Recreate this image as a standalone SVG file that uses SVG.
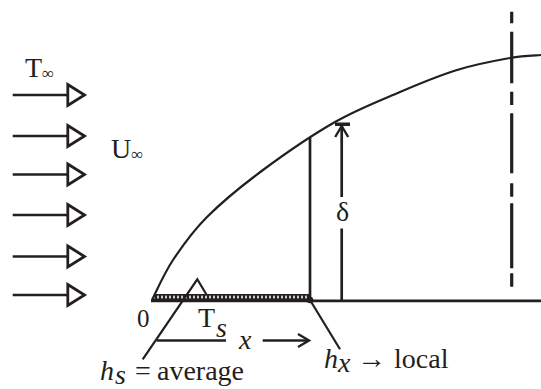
<svg xmlns="http://www.w3.org/2000/svg" width="541" height="389" viewBox="0 0 541 389">
<style>
.ln{fill:none;stroke:#231f20;stroke-width:2.7;stroke-linecap:butt}
.thin{fill:none;stroke:#231f20;stroke-width:2.2}
.t{font-family:"Liberation Serif","Times New Roman",serif;font-size:28px;fill:#231f20}
.i{font-style:italic}
.sub{font-size:17px}
</style>
<defs>
<marker id="openTri" markerUnits="userSpaceOnUse" markerWidth="26" markerHeight="28" viewBox="-21 -14 26 28" refX="0" refY="0" orient="auto">
<path d="M-16.7,-10.5 L0,0 L-16.7,10.5 Z" fill="#fff" stroke="#231f20" stroke-width="2.8"/>
</marker>
<marker id="chev" markerUnits="userSpaceOnUse" markerWidth="18" markerHeight="18" viewBox="-14 -9 18 18" refX="0" refY="0" orient="auto">
<path d="M-11,-6.5 L0,0 L-11,6.5" fill="none" stroke="#231f20" stroke-width="2.4"/>
</marker>
<pattern id="hatch" patternUnits="userSpaceOnUse" x="152" y="294.5" width="4" height="5">
<rect width="4" height="5" fill="#231f20"/>
<ellipse cx="2" cy="2.5" rx="0.9" ry="1.5" fill="#fff"/>
</pattern>
</defs>

<g id="free-stream">
<path class="ln" d="M12.7,95 H84.5" marker-end="url(#openTri)"/>
<path class="ln" d="M12.7,136 H84.5" marker-end="url(#openTri)"/>
<path class="ln" d="M12.7,174.5 H84.5" marker-end="url(#openTri)"/>
<path class="ln" d="M12.7,215 H84.5" marker-end="url(#openTri)"/>
<path class="ln" d="M12.7,256.5 H84.5" marker-end="url(#openTri)"/>
<path class="ln" d="M12.7,295 H84.5" marker-end="url(#openTri)"/>
<text class="t" x="25" y="77">T<tspan class="sub" dy="2">∞</tspan></text>
<text class="t" x="111" y="158">U<tspan class="sub" dy="2">∞</tspan></text>
</g>

<g id="boundary-layer">
<path class="thin" d="M152,300 C155.5,293.3 163.8,273.8 173,260 C182.2,246.2 192,232 207,217 C222,202 241.7,185.8 263,170 C284.3,154.2 312.2,135 335,122 C357.8,109 379.7,100.7 400,92 C420.3,83.3 438.7,75.7 457,70 C475.3,64.3 496,60.5 510,58 C524,55.5 535.8,55.5 541,55"/>
</g>

<g id="plate">
<path d="M152,300 L156,294.5 H310 V300 Z" fill="url(#hatch)" stroke="#231f20" stroke-width="1.2"/>
<path class="ln" d="M151,300.8 H541"/>
<path class="ln" d="M310,137.5 V300"/>
<circle cx="310" cy="300" r="3.3" fill="#231f20"/>
<text class="t" x="137" y="327" style="font-size:25px">0</text>
<text class="t" x="198" y="327">T</text>
<text class="t i" x="216" y="337">s</text>
</g>

<g id="thickness">
<path class="ln" d="M341.7,300 V228.5"/>
<path class="ln" d="M341.7,197 V126" marker-end="url(#chev)"/>
<rect x="335" y="122.5" width="15" height="3.5" fill="#231f20"/>
<text class="t" x="342.5" y="221" text-anchor="middle">δ</text>
</g>

<g id="edge-line">
<path d="M511.7,11.7 V23.3 M511.7,31.7 V83.3 M511.7,91.7 V105 M511.7,113.3 V173.3 M511.7,183.3 V196.7 M511.7,203.3 V268.3 M511.7,273.3 V286.7" stroke="#231f20" stroke-width="3.2" fill="none"/>
</g>

<g id="connectors">
<path class="thin" d="M142.7,359.3 L197.3,279.3 L206.7,295"/>
<path class="thin" d="M310,300 L340,349.3"/>
<path class="ln" d="M156.7,340.5 H226"/>
<path class="ln" d="M262.7,340.5 H309" marker-end="url(#chev)"/>
</g>

<g id="labels">
<text class="t i" x="239" y="349">x</text>
<text class="t i" x="100" y="380">h</text>
<text class="t i" x="115" y="384">s</text>
<text class="t" x="135" y="380">=</text>
<text class="t" x="157" y="380">average</text>
<text class="t i" x="324" y="368">h</text>
<text class="t i" x="338" y="372">x</text>
<text class="t" x="357" y="368" textLength="29" lengthAdjust="spacingAndGlyphs">→</text>
<text class="t" x="394" y="368">local</text>
</g>
</svg>
